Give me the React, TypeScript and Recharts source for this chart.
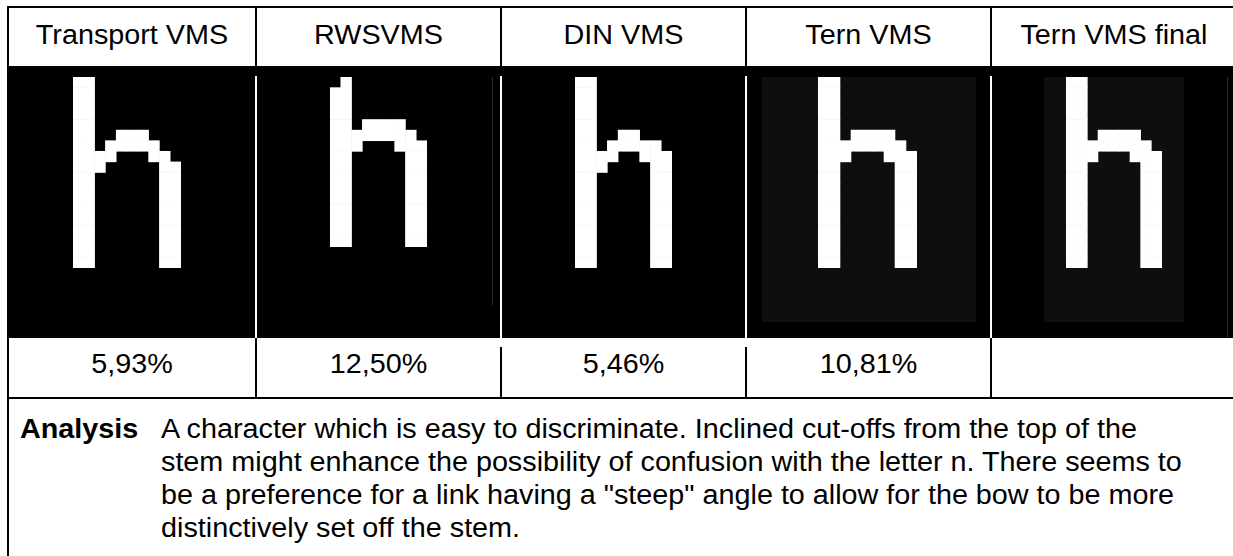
import { ScatterChart, Scatter, XAxis, YAxis } from "recharts";

// column headers, confusion percentages and analysis text
const headers = ["Transport VMS", "RWSVMS", "DIN VMS", "Tern VMS", "Tern VMS final"];
const confusion = ["5,93%", "12,50%", "5,46%", "10,81%", ""];
const analysisLines = [
  "A character which is easy to discriminate. Inclined cut-offs from the top of the",
  "stem might enhance the possibility of confusion with the letter n. There seems to",
  "be a preference for a link having a \"steep\" angle to allow for the bow to be more",
  "distinctively set off the stem.",
];

// pixel bitmaps of the letter h, one per font ('#' = lit pixel)
const transportGlyph = [
  "##........", "##........", "##........", "##........", "##........",
  "##..###...", "##.#####..", "####...##.", "###.....##",
  "##......##", "##......##", "##......##", "##......##", "##......##",
  "##......##", "##......##", "##......##", "##......##",
];
const rwsGlyph = [
  ".#.......", "##.......", "##.......", "##.......",
  "##.####..", "########.", "###...###",
  "##.....##", "##.....##", "##.....##", "##.....##", "##.....##",
  "##.....##", "##.....##", "##.....##", "##.....##",
];
const dinGlyph = [
  "##.......", "##.......", "##.......", "##.......", "##.......",
  "##..##...", "##.#####.", "####..###", "###....##",
  "##.....##", "##.....##", "##.....##", "##.....##", "##.....##",
  "##.....##", "##.....##", "##.....##", "##.....##",
];
const ternGlyph = [
  "##.......", "##.......", "##.......", "##.......", "##.......",
  "##.####..", "########.", "###...###",
  "##.....##", "##.....##", "##.....##", "##.....##", "##.....##",
  "##.....##", "##.....##", "##.....##", "##.....##", "##.....##",
];
const ternFinalGlyph = ternGlyph;

const FONT = "'Liberation Sans', Arial, Helvetica, sans-serif";
const STRETCH = 1.065; // source text is a little wider than plain Arial
const colEdges = [9, 257, 502, 747, 992, 1238];
const borderXs = [255, 500, 745, 990];

const glyphBoxes = [
  { bitmap: transportGlyph, left: 73, top: 77, width: 108, height: 191 },
  { bitmap: rwsGlyph, left: 330, top: 77, width: 97, height: 170 },
  { bitmap: dinGlyph, left: 575, top: 77, width: 97, height: 191 },
  { bitmap: ternGlyph, left: 818, top: 77, width: 99, height: 191 },
  { bitmap: ternFinalGlyph, left: 1066, top: 77, width: 96, height: 191 },
];

const toPoints = (bitmap: string[]) => {
  const pts: { x: number; y: number }[] = [];
  bitmap.forEach((row, r) => {
    row.split("").forEach((ch, c) => {
      if (ch === "#") pts.push({ x: c + 0.5, y: r + 0.5 });
    });
  });
  return pts;
};

const Glyph = ({ bitmap, width, height }: { bitmap: string[]; width: number; height: number }) => {
  const cols = bitmap[0].length;
  const rows = bitmap.length;
  const cw = width / cols;
  const ch = height / rows;
  return (
    <ScatterChart width={width} height={height} margin={{ top: 0, right: 0, bottom: 0, left: 0 }}>
      <XAxis type="number" dataKey="x" domain={[0, cols]} hide />
      <YAxis type="number" dataKey="y" domain={[0, rows]} reversed hide />
      <Scatter
        data={toPoints(bitmap)}
        isAnimationActive={false}
        shape={(p: any) => (
          <rect x={p.cx - cw / 2 - 0.3} y={p.cy - ch / 2 - 0.3} width={cw + 0.6} height={ch + 0.6} fill="#ffffff" />
        )}
      />
    </ScatterChart>
  );
};

const abs = (l: number, t: number, w: number, h: number, bg: string) => (
  <div style={{ position: "absolute", left: l, top: t, width: w, height: h, background: bg }} />
);

const cellText = (i: number, top: number, text: string, key: string) => (
  <div
    key={key}
    style={{
      position: "absolute", left: colEdges[i], width: colEdges[i + 1] - colEdges[i] - 2,
      top, fontSize: 27, lineHeight: "32px", textAlign: "center", whiteSpace: "nowrap",
      transform: `scaleX(${STRETCH})`, transformOrigin: "center",
    }}
  >
    {text}
  </div>
);

export default function App() {
  return (
    <div
      style={{
        position: "absolute", left: 0, top: 0, width: 1233, height: 556,
        overflow: "hidden", background: "#fff", fontFamily: FONT, color: "#000",
      }}
    >
      {/* image row */}
      {abs(7, 66, 1240, 272, "#000")}
      {abs(762, 77, 214, 245, "#0e0e0e")}
      {abs(1044, 77, 140, 245, "#0e0e0e")}
      {abs(492, 77, 1, 228, "#2c2c2c")}
      {abs(1227, 77, 1, 261, "#2c2c2c")}
      {borderXs.map((x) => (
        <div key={"g" + x}>{abs(x, 76, 2, 262, "#fff")}</div>
      ))}
      {glyphBoxes.map((g, i) => (
        <div key={i} style={{ position: "absolute", left: g.left, top: g.top }}>
          <Glyph bitmap={g.bitmap} width={g.width} height={g.height} />
        </div>
      ))}

      {/* table rules */}
      {abs(7, 6, 1240, 2, "#000")}
      {abs(7, 6, 2, 560, "#000")}
      {abs(7, 397, 1240, 2, "#000")}
      {borderXs.map((x) => (
        <div key={"h" + x}>{abs(x, 6, 2, 60, "#000")}</div>
      ))}
      {borderXs.map((x, i) => (
        <div key={"v" + x}>{abs(x, i === 1 || i === 2 ? 347 : 338, 2, i === 1 || i === 2 ? 51 : 60, "#000")}</div>
      ))}

      {headers.map((h, i) => cellText(i, 19, h, "h" + i))}
      {confusion.map((v, i) => cellText(i, 348, v, "c" + i))}

      {/* analysis */}
      <div
        style={{
          position: "absolute", left: 20, top: 413, fontSize: 27, lineHeight: "33px", fontWeight: 700,
          transform: `scaleX(${STRETCH})`, transformOrigin: "left",
        }}
      >
        Analysis
      </div>
      <div
        style={{
          position: "absolute", left: 161, top: 413, fontSize: 27, lineHeight: "33px", whiteSpace: "pre",
          transform: `scaleX(${STRETCH})`, transformOrigin: "left",
        }}
      >
        {analysisLines.map((l) => (
          <div key={l}>{l}</div>
        ))}
      </div>
    </div>
  );
}
